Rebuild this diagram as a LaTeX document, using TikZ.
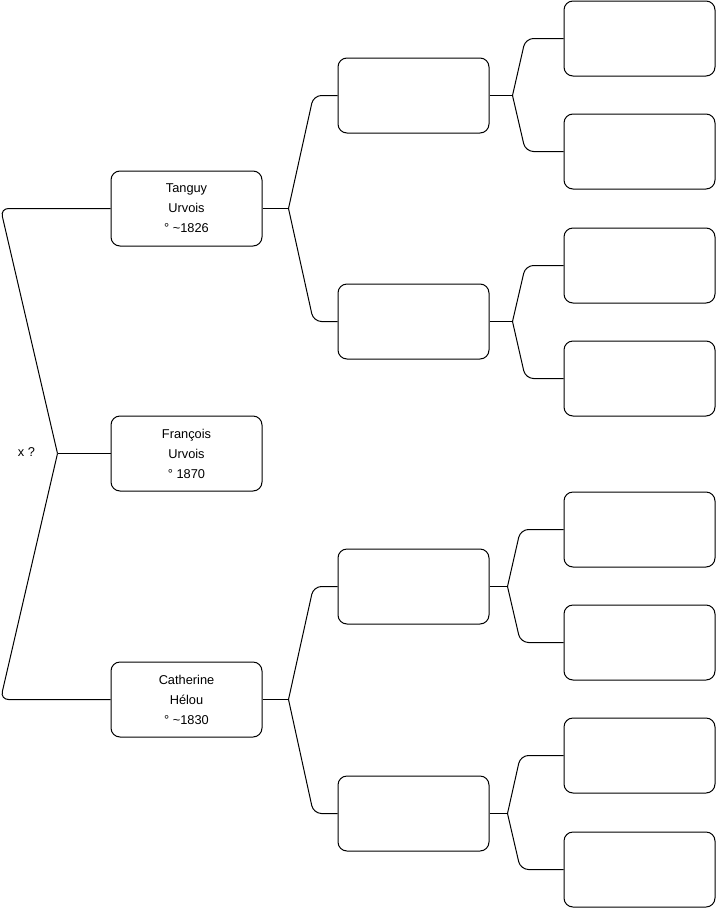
\documentclass[tikz,border=0pt]{standalone}
\usepackage{fontspec}
\setmainfont{Liberation Sans}
\usetikzlibrary{positioning,calc}

\begin{document}
\begin{tikzpicture}[x=1pt,y=-1pt,
box/.style={draw,rounded corners=9pt,align=center,minimum width=151pt,minimum height=75pt,inner sep=0pt,line width=1pt,font=\fontsize{12.8}{20}\selectfont},
link/.style={draw,line width=1pt},
elbow/.style={link,rounded corners=8pt}]
\useasboundingbox (0,0) rectangle (716,908);
% generation 1
\node[box] (tanguy) at (186.5,208.5) {Tanguy\\Urvois\\° \textasciitilde1826};
\node[box] (francois) at (186.5,453.5) {François\\Urvois\\° 1870};
\node[box] (catherine) at (186.5,699.5) {Catherine\\Hélou\\° \textasciitilde1830};
\node[font=\fontsize{12.8}{15}\selectfont] (xq) at (26.5,452.5) {x ?};
% generation 2
\node[box] (t1) at (413.5,95.5) {};
\node[box] (t2) at (413.5,321.5) {};
\node[box] (c1) at (413.5,586.5) {};
\node[box] (c2) at (413.5,813.5) {};
% generation 3
\node[box] (t1a) at (639.5,38.5) {};
\node[box] (t1b) at (639.5,151.5) {};
\node[box] (t2a) at (639.5,265.5) {};
\node[box] (t2b) at (639.5,378.5) {};
\node[box] (c1a) at (639.5,529.5) {};
\node[box] (c1b) at (639.5,642.5) {};
\node[box] (c2a) at (639.5,755.5) {};
\node[box] (c2b) at (639.5,869.5) {};
% couple on the left
\coordinate (fx) at ($(francois.west)+(-53,0)$);
\draw[link] (francois.west) -- (fx);
\draw[elbow] (fx) -- ($(tanguy.west)+(-110,0)$) -- (tanguy.west);
\draw[elbow] (fx) -- ($(catherine.west)+(-110,0)$) -- (catherine.west);
% parents
\foreach \c/\a/\b/\f/\k in {tanguy/t1/t2/26/24,catherine/c1/c2/26/24,t1/t1a/t1b/23/38,t2/t2a/t2b/23/38,c1/c1a/c1b/18/43,c2/c2a/c2b/18/43}{
  \coordinate (f\c) at ($(\c.east)+(\f,0)$);
  \draw[link] (\c.east) -- (f\c);
  \draw[elbow] (f\c) -- ($(\a.west)+(-\k,0)$) -- (\a.west);
  \draw[elbow] (f\c) -- ($(\b.west)+(-\k,0)$) -- (\b.west);
}
\end{tikzpicture}
\end{document}
